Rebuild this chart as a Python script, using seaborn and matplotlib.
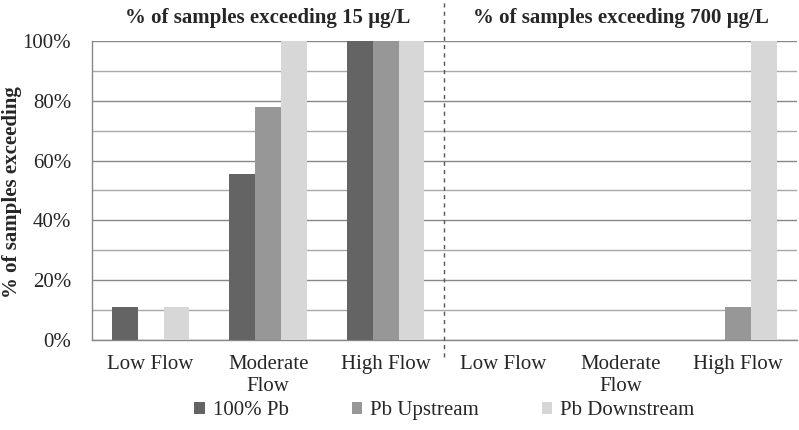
import matplotlib
matplotlib.use("Agg")
import matplotlib.pyplot as plt
from matplotlib.ticker import MultipleLocator, FixedLocator, PercentFormatter
import seaborn as sns
import pandas as pd

# data
cat_keys = ["Low15", "Mod15", "High15", "Low700", "Mod700", "High700"]
cat_labels = ["Low Flow", "Moderate\nFlow", "High Flow", "Low Flow", "Moderate\nFlow", "High Flow"]
series = ["100% Pb", "Pb Upstream", "Pb Downstream"]
pb100 = [11.1, 55.6, 100, 0, 0, 0]
pb_up = [0, 77.8, 100, 0, 0, 11.1]
pb_down = [11.1, 100, 100, 0, 0, 100]
titles = ["% of samples exceeding 15 µg/L", "% of samples exceeding 700 µg/L"]
colors = ["#646464", "#979797", "#d7d7d7"]

rows = []
for name, vals in zip(series, [pb100, pb_up, pb_down]):
    for k, v in zip(cat_keys, vals):
        rows.append({"cat": k, "series": name, "value": v})
df = pd.DataFrame(rows)

sns.set_style("white")
plt.rcParams["font.family"] = ["Liberation Serif", "DejaVu Serif"]
FS = 15

fig = plt.figure(figsize=(7.99, 4.30), dpi=100)
ax = fig.add_axes([0.115, 0.209, 0.8825, 0.696])

sns.barplot(data=df, x="cat", y="value", hue="series", order=cat_keys,
            hue_order=series, palette=colors, width=0.66, saturation=1,
            linewidth=0, ax=ax, zorder=3)

ax.set_ylim(0, 100)
ax.set_xlim(-0.5, 5.5)
ax.yaxis.set_major_locator(MultipleLocator(20))
ax.yaxis.set_minor_locator(MultipleLocator(10))
ax.yaxis.set_major_formatter(PercentFormatter(decimals=0))
ax.grid(True, axis="y", which="major", color="#888888", linewidth=1, zorder=0)
ax.grid(True, axis="y", which="minor", color="#a8a8a8", linewidth=1, zorder=0)
ax.set_axisbelow(True)

ax.set_xticks(range(len(cat_keys)))
ax.set_xticklabels(cat_labels, fontsize=FS, linespacing=1.15)
ax.xaxis.set_minor_locator(FixedLocator([i - 0.5 for i in range(len(cat_keys) + 1)]))
ax.tick_params(axis="x", which="major", length=0, pad=11)
ax.tick_params(axis="x", which="minor", length=5, width=1, color="#888888", direction="in")
ax.tick_params(axis="y", which="major", length=5, width=1, color="#888888",
               direction="out", labelsize=FS, pad=10)
ax.tick_params(axis="y", which="minor", length=0)

for s in ["top", "right"]:
    ax.spines[s].set_visible(False)
for s in ["left", "bottom"]:
    ax.spines[s].set_color("#888888")
    ax.spines[s].set_linewidth(1)

ax.set_xlabel("")
ax.set_ylabel("")
fig.text(12 / 799, 1 - 192 / 430, "% of samples exceeding", rotation=90,
         ha="center", va="center", fontsize=FS, fontweight="bold")

ax.axvline(2.5, ymin=-0.055, ymax=1.137, color="#555555", linestyle=(0, (3, 3)),
           linewidth=1, clip_on=False, zorder=5)

for x, t in zip([1, 4], titles):
    ax.text(x, 1.077, t, transform=ax.get_xaxis_transform(), ha="center",
            va="center", fontsize=FS, fontweight="bold")

leg = ax.legend(loc="center", bbox_to_anchor=(0.5, -0.235), ncol=3, frameon=False,
                fontsize=FS, handlelength=0.5, handleheight=0.5, handletextpad=0.4,
                columnspacing=3.0)

fig.savefig("out.png", dpi=100)
